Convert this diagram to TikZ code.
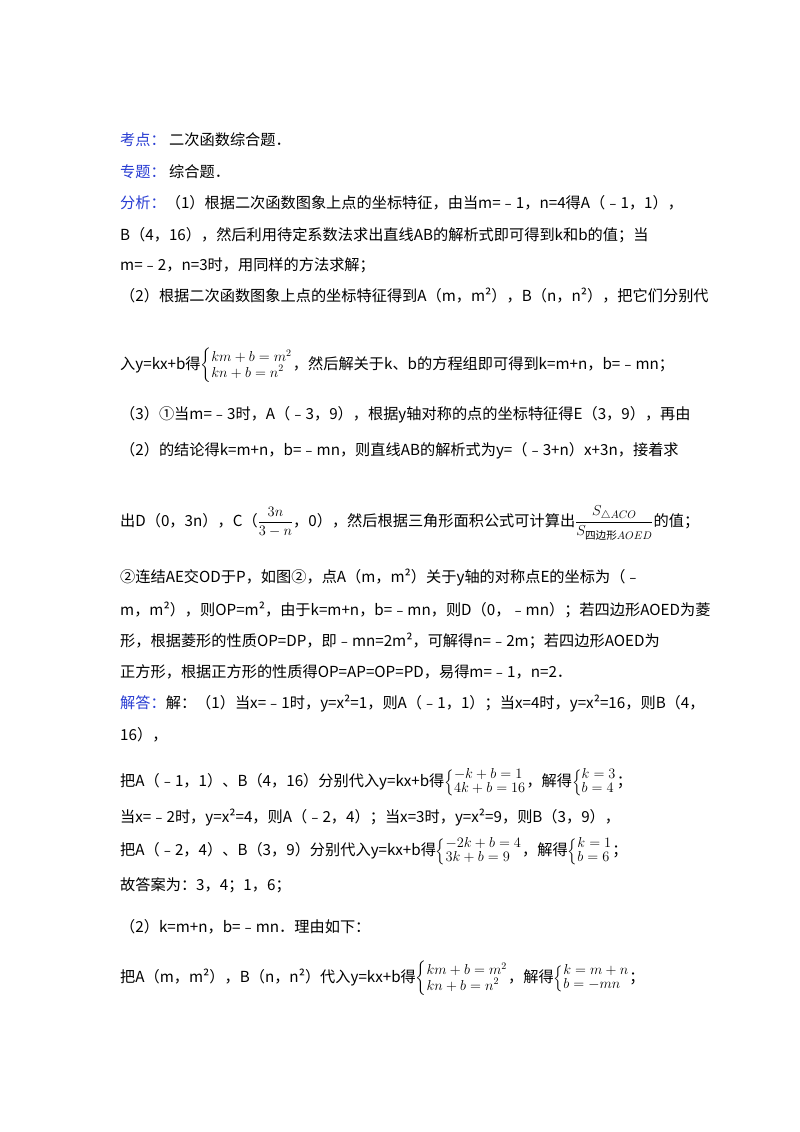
\documentclass[tikz,border=0pt]{standalone}
\usepackage{amsmath}
\usepackage{fontspec}
\setmainfont{Noto Sans CJK SC}
\definecolor{lab}{RGB}{40,60,210}
\newcommand{\sysm}[1]{{\fontsize{14.5}{15}\selectfont$\renewcommand\arraystretch{0.85}\left\{\begin{array}{@{}l@{}}#1\end{array}\right.$}}
\begin{document}
\begin{tikzpicture}[x=1pt,y=1pt,t/.style={anchor=base west,inner sep=0pt,font=\fontsize{15.2}{16}\selectfont}]
\useasboundingbox (0,0) rectangle (800,-1132);
\node[t] (l1) at (120,-145) {\textcolor{lab}{考点：}\ 二次函数综合题．};
\node[t] (l2) at (120,-177) {\textcolor{lab}{专题：}\ 综合题．};
\node[t] (l3) at (120,-208) {\textcolor{lab}{分析：}（1）根据二次函数图象上点的坐标特征，由当m=﹣1，n=4得A（﹣1，1），};
\node[t] (l4) at (120,-240) {B（4，16），然后利用待定系数法求出直线AB的解析式即可得到k和b的值；当};
\node[t] (l5) at (120,-270) {m=﹣2，n=3时，用同样的方法求解；};
\node[t] (l6) at (120,-301) {（2）根据二次函数图象上点的坐标特征得到A（m，m²），B（n，n²），把它们分别代};
\node[t] (l7) at (120,-369) {入y=kx+b得\sysm{km+b=m^2\\ kn+b=n^2}，然后解关于k、b的方程组即可得到k=m+n，b=﹣mn；};
\node[t] (l8) at (120,-419) {（3）①当m=﹣3时，A（﹣3，9），根据y轴对称的点的坐标特征得E（3，9），再由};
\node[t] (l9) at (120,-455) {（2）的结论得k=m+n，b=﹣mn，则直线AB的解析式为y=（﹣3+n）x+3n，接着求};
\node[t] (l10) at (120,-526) {出D（0，3n），C（$\dfrac{3n}{3-n}$，0），然后根据三角形面积公式可计算出$\dfrac{S_{\triangle ACO}}{S_{\text{四边形}AOED}}$的值；};
\node[t] (l11) at (120,-582) {②连结AE交OD于P，如图②，点A（m，m²）关于y轴的对称点E的坐标为（﹣};
\node[t] (l12) at (120,-615) {m，m²），则OP=m²，由于k=m+n，b=﹣mn，则D（0，﹣mn）；若四边形AOED为菱};
\node[t] (l13) at (120,-646) {形，根据菱形的性质OP=DP，即﹣mn=2m²，可解得n=﹣2m；若四边形AOED为};
\node[t] (l14) at (120,-677) {正方形，根据正方形的性质得OP=AP=OP=PD，易得m=﹣1，n=2．};
\node[t] (l15) at (120,-708) {\textcolor{lab}{解答：}解：（1）当x=﹣1时，y=x²=1，则A（﹣1，1）；当x=4时，y=x²=16，则B（4，};
\node[t] (l16) at (120,-740) {16），};
\node[t] (l17) at (120,-786) {把A（﹣1，1）、B（4，16）分别代入y=kx+b得\sysm{-k+b=1\\ 4k+b=16}，解得\sysm{k=3\\ b=4}；};
\node[t] (l18) at (120,-822) {当x=﹣2时，y=x²=4，则A（﹣2，4）；当x=3时，y=x²=9，则B（3，9），};
\node[t] (l19) at (120,-855) {把A（﹣2，4）、B（3，9）分别代入y=kx+b得\sysm{-2k+b=4\\ 3k+b=9}，解得\sysm{k=1\\ b=6}；};
\node[t] (l20) at (120,-890) {故答案为：3，4；1，6；};
\node[t] (l21) at (120,-932) {（2）k=m+n，b=﹣mn．理由如下：};
\node[t] (l22) at (120,-982) {把A（m，m²），B（n，n²）代入y=kx+b得\sysm{km+b=m^2\\ kn+b=n^2}，解得\sysm{k=m+n\\ b=-mn}；};
\end{tikzpicture}
\end{document}
